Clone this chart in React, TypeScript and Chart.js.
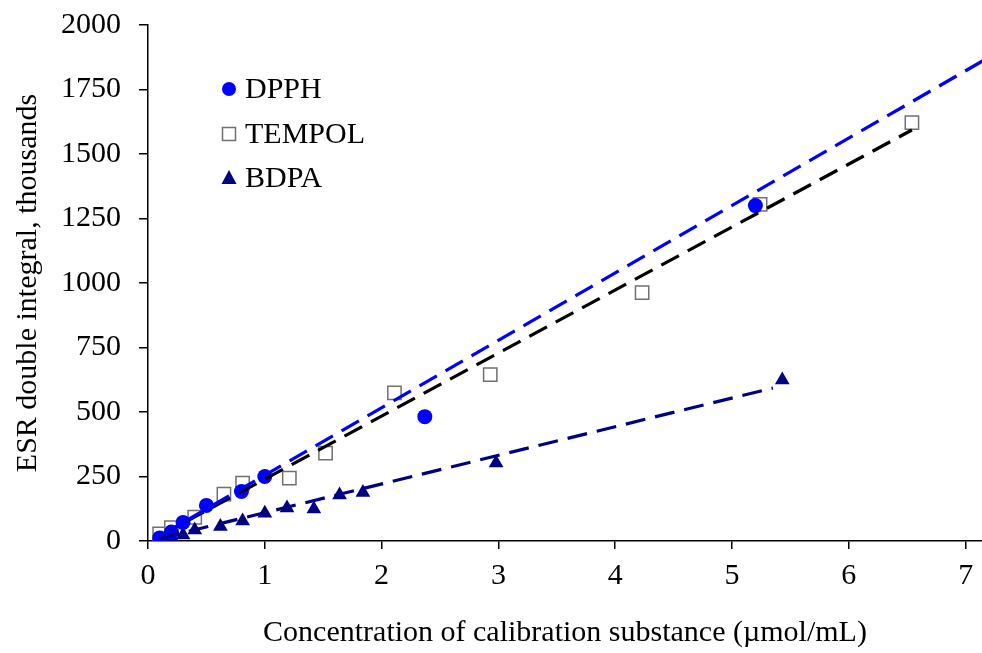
import React, { useEffect, useRef } from 'react';
import { Chart, registerables } from 'chart.js';

Chart.register(...registerables);

// ---- Data ----
const dpphX = [0.1, 0.2, 0.3, 0.5, 0.8, 1.0, 2.37, 5.2];
const dpphY = [12, 35, 72, 138, 192, 250, 482, 1300];

const tempolX = [0.1, 0.2, 0.4, 0.65, 0.81, 1.21, 1.52, 2.11, 2.93, 4.23, 5.24, 6.54];
const tempolY = [28, 52, 92, 182, 224, 244, 341, 574, 645, 963, 1305, 1622];

const bdpaX = [0.12, 0.2, 0.3, 0.4, 0.62, 0.81, 1.0, 1.19, 1.42, 1.64, 1.84, 2.98, 5.43];
const bdpaY = [8, 16, 23, 43, 56, 78, 108, 128, 124, 178, 188, 302, 624];

// Trend line end points
const dpphFitX = [0.1, 7.2];
const dpphFitY = [20, 1875];
const tempolFitX = [0.1, 6.54];
const tempolFitY = [20, 1593];
const bdpaFitX = [0.1, 5.35];
const bdpaFitY = [10, 593];

const xTicks = [0, 1, 2, 3, 4, 5, 6, 7];
const yTicks = [0, 250, 500, 750, 1000, 1250, 1500, 1750, 2000];
const xMin = 0;
const xMax = 7.14;
const yMin = 0;
const yMax = 2000;

const legendLabels = ['DPPH', 'TEMPOL', 'BDPA'];

const FONT = "'Liberation Serif', 'Times New Roman', serif";
const BLUE = '#0000FF';
const NAVY = '#000080';
const SQ = '#707070';

const pts = (xs: number[], ys: number[]) => xs.map((x, i) => ({ x, y: ys[i] }));

const legendPlugin = {
  id: 'insideLegend',
  afterDraw(chart: any) {
    const ctx = chart.ctx;
    const area = chart.chartArea;
    const mx = area.left + 81;
    const tx = area.left + 97;
    const rows = [area.top + 64, area.top + 109, area.top + 153];
    ctx.save();
    ctx.fillStyle = BLUE;
    ctx.beginPath();
    ctx.arc(mx, rows[0], 7, 0, Math.PI * 2);
    ctx.fill();
    ctx.strokeStyle = SQ;
    ctx.lineWidth = 1.5;
    ctx.fillStyle = '#fff';
    ctx.beginPath();
    ctx.rect(mx - 6.5, rows[1] - 6.5, 13, 13);
    ctx.fill();
    ctx.stroke();
    ctx.fillStyle = NAVY;
    ctx.beginPath();
    ctx.moveTo(mx, rows[2] - 8);
    ctx.lineTo(mx + 7.5, rows[2] + 6);
    ctx.lineTo(mx - 7.5, rows[2] + 6);
    ctx.closePath();
    ctx.fill();
    ctx.fillStyle = '#000';
    ctx.font = `30px ${FONT}`;
    ctx.textBaseline = 'middle';
    ctx.textAlign = 'left';
    legendLabels.forEach((l, i) => ctx.fillText(l, tx, rows[i] + 1));
    ctx.restore();
  },
};

export default function App() {
  const ref = useRef<HTMLCanvasElement>(null);
  useEffect(() => {
    if (!ref.current) return;
    const fitLine = (xs: number[], ys: number[], color: string, label: string): any => ({
      label,
      type: 'line',
      data: pts(xs, ys),
      borderColor: color,
      borderWidth: 3.2,
      borderDash: [20, 10],
      pointRadius: 0,
      showLine: true,
      fill: false,
      order: 0,
    });
    const chart = new Chart(ref.current, {
      type: 'scatter',
      data: {
        datasets: [
          fitLine(dpphFitX, dpphFitY, BLUE, 'DPPH fit'),
          fitLine(tempolFitX, tempolFitY, '#000', 'TEMPOL fit'),
          fitLine(bdpaFitX, bdpaFitY, NAVY, 'BDPA fit'),
          {
            label: 'TEMPOL',
            data: pts(tempolX, tempolY),
            pointStyle: 'rect',
            pointRadius: 9.4,
            pointBackgroundColor: '#fff',
            pointBorderColor: SQ,
            pointBorderWidth: 1.5,
            order: 3,
          },
          {
            label: 'BDPA',
            data: pts(bdpaX, bdpaY),
            pointStyle: 'triangle',
            pointRadius: 8.5,
            pointBackgroundColor: NAVY,
            pointBorderColor: NAVY,
            pointBorderWidth: 0,
            order: 2,
          },
          {
            label: 'DPPH',
            data: pts(dpphX, dpphY),
            pointStyle: 'circle',
            pointRadius: 7.5,
            pointBackgroundColor: BLUE,
            pointBorderColor: BLUE,
            pointBorderWidth: 0,
            order: 1,
          },
        ] as any,
      },
      options: {
        animation: false,
        responsive: false,
        maintainAspectRatio: false,
        layout: { autoPadding: false, padding: { top: 25, right: 0, left: 0, bottom: 0 } },
        plugins: {
          legend: { display: false },
          tooltip: { enabled: false },
        },
        scales: {
          x: {
            type: 'linear',
            min: xMin,
            max: xMax,
            afterBuildTicks: (s: any) => {
              s.ticks = xTicks.map((v) => ({ value: v }));
            },
            afterFit: (s: any) => {
              s.height = 112;
              s.paddingLeft = 0;
              s.paddingRight = 0;
            },
            ticks: {
              color: '#000',
              font: { family: FONT, size: 30 },
              padding: 9,
              maxRotation: 0,
              autoSkip: false,
              callback: (v: any) => String(v),
            },
            grid: {
              drawOnChartArea: false,
              drawTicks: true,
              tickLength: 8,
              color: '#000',
              lineWidth: 1.5,
            },
            border: { color: '#000', width: 1.5 },
            title: {
              display: true,
              text: 'Concentration of calibration substance (µmol/mL)',
              color: '#000',
              font: { family: FONT, size: 30 },
              padding: { top: 0, bottom: 2 },
            },
          },
          y: {
            type: 'linear',
            min: yMin,
            max: yMax,
            afterBuildTicks: (s: any) => {
              s.ticks = yTicks.map((v) => ({ value: v }));
            },
            afterFit: (s: any) => {
              s.width = 148;
              s.paddingTop = 0;
              s.paddingBottom = 0;
            },
            ticks: {
              color: '#000',
              font: { family: FONT, size: 30 },
              padding: 18,
              autoSkip: false,
              callback: (v: any) => String(v),
            },
            grid: {
              drawOnChartArea: false,
              drawTicks: true,
              tickLength: 9,
              color: '#000',
              lineWidth: 1.5,
            },
            border: { color: '#000', width: 1.5 },
            title: {
              display: true,
              text: 'ESR double integral, thousands',
              color: '#000',
              font: { family: FONT, size: 30 },
              padding: { top: 10, bottom: 0 },
            },
          },
        },
      },
      plugins: [legendPlugin],
    });
    return () => chart.destroy();
  }, []);
  return (
    <div style={{ position: 'fixed', left: 0, top: 0, width: 982, height: 653, background: '#fff' }}>
      <canvas ref={ref} width={982} height={653} />
    </div>
  );
}
